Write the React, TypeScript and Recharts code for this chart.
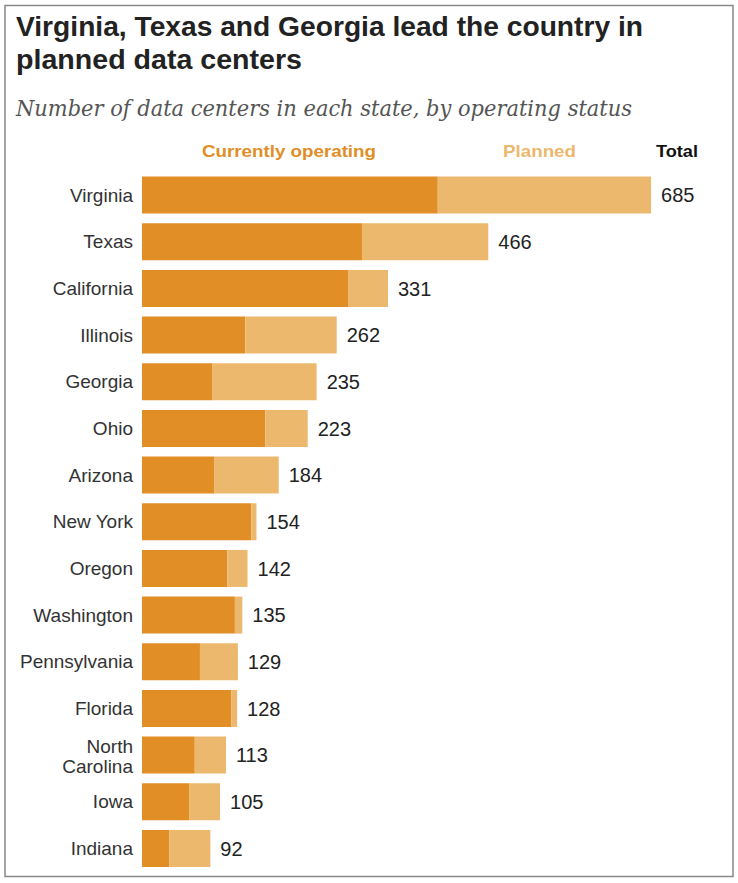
import { Bar, BarChart, LabelList, XAxis, YAxis } from 'recharts'

const STATES = [
  'Virginia', 'Texas', 'California', 'Illinois', 'Georgia', 'Ohio', 'Arizona', 'New York',
  'Oregon', 'Washington', 'Pennsylvania', 'Florida', 'North Carolina', 'Iowa', 'Indiana',
]
const OPERATING = [398, 296, 278, 139, 95, 166, 97, 147, 115, 125, 78, 120, 71, 64, 37]
const TOTAL = [685, 466, 331, 262, 235, 223, 184, 154, 142, 135, 129, 128, 113, 105, 92]

const COR_OPERANDO = '#E18E26'
const COR_PLANEJADO = '#ECB86E'

const dados = STATES.map((estado, i) => ({
  estado,
  operando: OPERATING[i],
  planejado: TOTAL[i] - OPERATING[i],
  total: TOTAL[i],
}))

const FONTE = '"Liberation Sans", Arial, sans-serif'

function EstadoTick({ x, y, payload }: any) {
  const nome: string = payload.value
  if (nome === 'North Carolina') {
    return (
      <text x={x} y={y} textAnchor="end" fill="#333" fontSize={19} fontFamily={FONTE}>
        <tspan x={x} dy={-1.7}>North</tspan>
        <tspan x={x} dy={20}>Carolina</tspan>
      </text>
    )
  }
  return (
    <text x={x} y={y} dy={6.7} textAnchor="end" fill="#333" fontSize={19} fontFamily={FONTE}>
      {nome}
    </text>
  )
}

export default function App() {
  return (
    <div style={{ position: 'absolute', left: 0, top: 0, width: 738, height: 883, background: '#fff' }}>
      <svg width={738} height={883} style={{ position: 'absolute', left: 0, top: 0 }}>
        <rect x={5} y={5.5} width={728} height={871} fill="none" stroke="#888" strokeWidth={1.5} />
        <text x={16} y={36} fontSize={27} fontWeight="bold" fontFamily={FONTE} fill="#222"
          textLength={627} lengthAdjust="spacingAndGlyphs">
          Virginia, Texas and Georgia lead the country in
        </text>
        <text x={16} y={69} fontSize={27} fontWeight="bold" fontFamily={FONTE} fill="#222"
          textLength={286} lengthAdjust="spacingAndGlyphs">
          planned data centers
        </text>
        <text x={16} y={115.5} fontSize={21.5} fontStyle="italic" fontFamily='"DejaVu Serif", serif' fill="#555"
          textLength={616} lengthAdjust="spacingAndGlyphs">
          Number of data centers in each state, by operating status
        </text>
        <text x={202} y={157.3} fontSize={17} fontWeight="bold" fontFamily={FONTE} fill={COR_OPERANDO}
          textLength={174} lengthAdjust="spacingAndGlyphs">
          Currently operating
        </text>
        <text x={503} y={157.3} fontSize={17} fontWeight="bold" fontFamily={FONTE} fill={COR_PLANEJADO}
          textLength={73} lengthAdjust="spacingAndGlyphs">
          Planned
        </text>
        <text x={656} y={157.3} fontSize={17} fontWeight="bold" fontFamily={FONTE} fill="#111"
          textLength={42} lengthAdjust="spacingAndGlyphs">
          Total
        </text>
      </svg>
      <div style={{ position: 'absolute', left: 0, top: 0 }}>
        <BarChart
          width={738}
          height={883}
          data={dados}
          layout="vertical"
          margin={{ top: 171.6, right: 75.8, bottom: 11.4, left: 0 }}
          barSize={37}
        >
          <XAxis type="number" hide domain={[0, 700]} />
          <YAxis
            type="category"
            dataKey="estado"
            width={142}
            axisLine={false}
            tickLine={false}
            tickSize={0}
            tickMargin={9}
            interval={0}
            tick={<EstadoTick />}
          />
          <Bar dataKey="operando" stackId="a" fill={COR_OPERANDO} isAnimationActive={false} />
          <Bar dataKey="planejado" stackId="a" fill={COR_PLANEJADO} isAnimationActive={false}>
            <LabelList dataKey="total" position="right" offset={10} fill="#222" fontSize={20} fontFamily={FONTE} />
          </Bar>
        </BarChart>
      </div>
    </div>
  )
}
